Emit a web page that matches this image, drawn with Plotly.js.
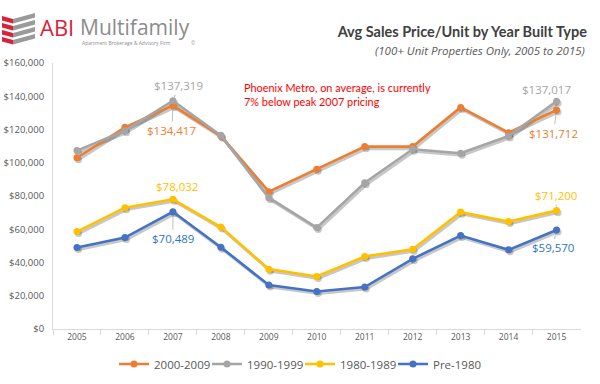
<!DOCTYPE html>
<html><head><meta charset="utf-8">
<script src="https://cdn.plot.ly/plotly-3.0.1.min.js"></script>
<style>html,body{margin:0;padding:0;background:#fff}#chart{width:600px;height:384px}</style>
</head><body><div id="chart"></div>
<script>
// ---- data ----
const years = ['2005','2006','2007','2008','2009','2010','2011','2012','2013','2014','2015'];
const seriesNames = ['2000-2009','1990-1999','1980-1989','Pre-1980'];
const s2000 = [103000,121300,134417,116100,82600,96100,109700,109700,133300,118100,131712];
const s1990 = [107300,119300,137319,116500,79000,61000,88000,108100,105700,116100,137017];
const s1980 = [58600,73000,78032,61300,36000,31600,43600,48000,70300,64600,71200];
const sPre  = [49000,55000,70489,49200,26400,22600,25200,42200,56200,47600,59570];
const yTickVals = [0,20000,40000,60000,80000,100000,120000,140000,160000];

const seriesValues = [s2000, s1990, s1980, sPre];
const colors = ['#ED7D31','#A5A5A5','#FFC000','#4472C4'];
const labelColors = ['#ED7D31','#A5A5A5','#FFC000','#2F75C0'];

const fmt = v => '$' + v.toLocaleString('en-US');

// pixel helpers for decorations outside the plot (margins l=53, r=18, t=63, b=53)
const W = 600, H = 384, L = 53, R = 18, T = 63, B = 53;
const px = x => (x - L) / (W - L - R);
const py = y => (H - B - y) / (H - T - B);

const traces = [];
// shadows (drawn first, on subplot xy)
seriesValues.forEach((v, i) => {
  traces.push({x: years, y: v, xaxis: 'x', yaxis: 'y', type: 'scatter', mode: 'lines+markers',
    line: {color: 'rgba(0,0,0,0.22)', width: 3}, marker: {size: 7, color: 'rgba(0,0,0,0.22)'},
    showlegend: false, hoverinfo: 'skip'});
});
seriesValues.forEach((v, i) => {
  traces.push({x: years, y: v, xaxis: 'x2', yaxis: 'y2', type: 'scatter', mode: 'lines+markers',
    name: seriesNames[i], line: {color: colors[i], width: 2.6}, marker: {size: 7, color: colors[i]}});
});

// data labels: [series index, category index, ax, ay]
const labelSpec = [
  [1, 2, 6, -15], [0, 2, -1, 25], [2, 2, 4, -13], [3, 2, 0, 27],
  [1, 10, -10, -12], [0, 10, -3, 23], [2, 10, -1, -15], [3, 10, -4, 18]
];
const annotations = labelSpec.map(([s, c, ax, ay]) => ({
  x: c, y: seriesValues[s][c], xref: 'x2', yref: 'y2', text: fmt(seriesValues[s][c]),
  showarrow: true, arrowhead: 0, arrowwidth: 1, arrowcolor: '#BFBFBF', ax: ax, ay: ay, standoff: 4,
  font: {family: 'Open Sans, sans-serif', size: 11.5, color: labelColors[s]}
}));

annotations.push({
  xref: 'paper', yref: 'paper', x: px(242), y: py(94.5), xanchor: 'left', yanchor: 'middle', align: 'left',
  showarrow: false, text: 'Phoenix Metro, on average, is currently<br>7% below peak 2007 pricing',
  font: {family: 'Lato, sans-serif', size: 10.9, color: '#FF0000'}
});
annotations.push({
  xref: 'paper', yref: 'paper', x: px(587), y: py(50), xanchor: 'right', yanchor: 'middle',
  showarrow: false, text: '<i>(100+ Unit Properties Only, 2005 to 2015)</i>',
  font: {family: 'Open Sans, sans-serif', size: 11.5, color: '#595959'}
});
// logo text
annotations.push({xref: 'paper', yref: 'paper', x: px(38), y: py(26.5), xanchor: 'left', yanchor: 'middle',
  showarrow: false, text: 'ABI', font: {family: 'Open Sans, sans-serif', size: 22, color: '#D9223A'}});
annotations.push({xref: 'paper', yref: 'paper', x: px(78), y: py(26.5), xanchor: 'left', yanchor: 'middle',
  showarrow: false, text: 'Multifamily', font: {family: 'Open Sans, sans-serif', size: 21, color: '#8C8C8C'}});
annotations.push({xref: 'paper', yref: 'paper', x: px(80), y: py(43.2), xanchor: 'left', yanchor: 'middle',
  showarrow: false, text: 'Apartment Brokerage &amp; Advisory Firm', font: {family: 'Open Sans, sans-serif', size: 5, color: '#8C8C8C'}});
annotations.push({xref: 'paper', yref: 'paper', x: px(189), y: py(43.2), xanchor: 'left', yanchor: 'middle',
  showarrow: false, text: '©', font: {family: 'Open Sans, sans-serif', size: 5, color: '#8C8C8C'}});

// logo icon: stacked chevrons
const shapes = [];
for (let i = 0; i < 4; i++) {
  const d = i * 7;
  const red = [[2, 16 + d], [13, 19 + d], [13, 23.5 + d], [2, 20.5 + d]];
  const gray = [[13, 19 + d], [35, 13 + d], [35, 17.5 + d], [13, 23.5 + d]];
  [[red, '#D9223A'], [gray, '#9A9A9A']].forEach(([pts, col]) => {
    shapes.push({type: 'path', xref: 'paper', yref: 'paper', line: {width: 0}, fillcolor: col,
      path: 'M' + pts.map(p => px(p[0]) + ',' + py(p[1])).join(' L') + ' Z'});
  });
}

const hiddenAxis = {showgrid: false, zeroline: false, showline: false, showticklabels: false, ticks: ''};
const layout = {
  width: W, height: H, margin: {l: L, r: R, t: T, b: B},
  paper_bgcolor: '#fff', plot_bgcolor: 'rgba(0,0,0,0)',
  font: {family: 'Open Sans, sans-serif', color: '#595959'},
  title: {text: '<b>Avg Sales Price/Unit by Year Built Type</b>', xref: 'container', yref: 'container',
    x: 587 / W, xanchor: 'right', y: 1 - 32 / H, yanchor: 'middle',
    font: {family: 'Lato, sans-serif', size: 14.5, color: '#404040'}},
  xaxis: Object.assign({type: 'category', range: [-0.5, 10.5], domain: [0.0028, 1], anchor: 'y'}, hiddenAxis),
  yaxis: Object.assign({range: [0, 160000], domain: [0, 0.9925], anchor: 'x'}, hiddenAxis),
  xaxis2: {type: 'category', range: [-0.5, 10.5], domain: [0, 0.9972], anchor: 'y2',
    showgrid: false, zeroline: false, showline: true, linecolor: '#D9D9D9', linewidth: 1,
    ticks: 'outside', tickson: 'boundaries', ticklen: 5, tickcolor: '#D9D9D9',
    tickfont: {size: 8.5, color: '#595959'}},
  yaxis2: {range: [0, 160000], domain: [0.0075, 1], anchor: 'x2', tickmode: 'array', tickvals: yTickVals,
    ticktext: yTickVals.map(fmt), showgrid: false, zeroline: false, showline: true,
    linecolor: '#D9D9D9', linewidth: 1, ticks: '', ticklabelstandoff: 6,
    tickfont: {size: 9.5, color: '#595959'}},
  legend: {orientation: 'h', x: 0.5, xanchor: 'center', xref: 'container', y: 1 - 364 / H, yanchor: 'middle', yref: 'container',
    font: {size: 11.5, color: '#595959'}, itemclick: false, entrywidth: 48, entrywidthmode: 'pixels'},
  showlegend: true,
  annotations: annotations,
  shapes: shapes
};
Plotly.newPlot('chart', traces, layout, {displayModeBar: false, staticPlot: true});
</script></body></html>
